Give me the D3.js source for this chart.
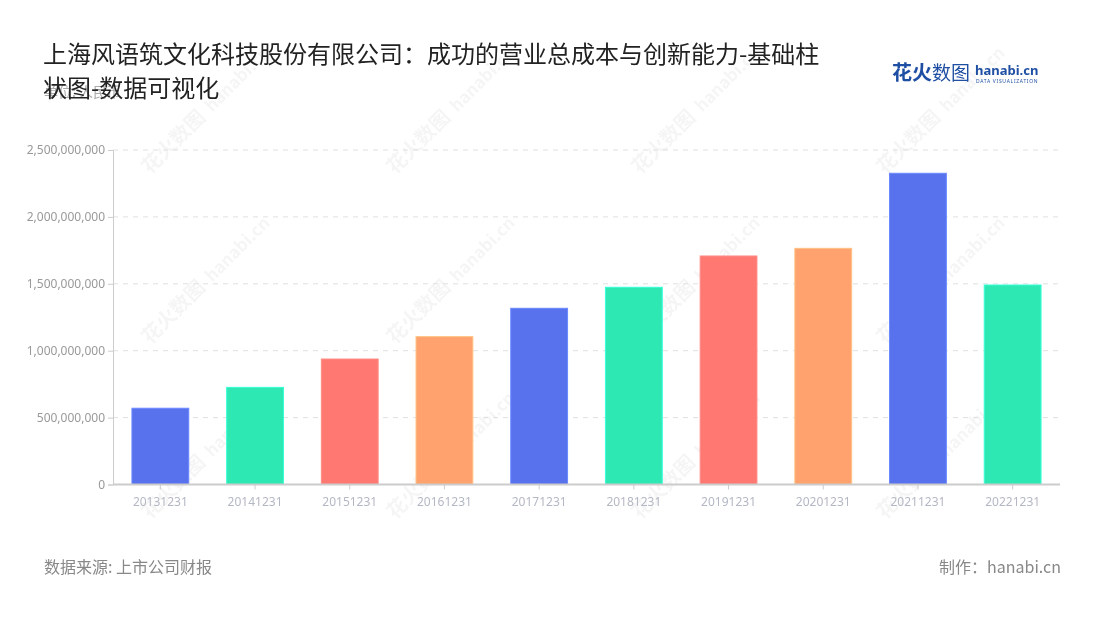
<!DOCTYPE html>
<html><head><meta charset="utf-8">
<script src="https://cdn.jsdelivr.net/npm/d3@7"></script>
<style>
html,body{margin:0;padding:0;background:#fff;}
svg{display:block;font-family:"Noto Sans CJK SC","Noto Sans",sans-serif;}
</style></head>
<body><svg id="c" width="1100" height="620"></svg>
<script>
const categories = ["20131231","20141231","20151231","20161231","20171231","20181231","20191231","20201231","20211231","20221231"];
const values = [570000000,726000000,938000000,1105000000,1317000000,1474000000,1708000000,1765000000,2326000000,1491000000];
const yTicks = [0,500000000,1000000000,1500000000,2000000000,2500000000];
const palette = ["#5872EE","#2EE8B4","#FF7872","#FFA26E"];
const titleLines = ["上海风语筑文化科技股份有限公司：成功的营业总成本与创新能力-基础柱","状图-数据可视化"];

const svg = d3.select("#c");
const m = {l:113, r:1060, t:150, b:484.5};

// watermarks
const wm = svg.append("g").attr("fill","#000").attr("opacity",0.04).attr("font-weight","bold");
[[150,175],[395,175],[640,175],[885,175],[150,345],[395,345],[640,345],[885,345],[150,520],[395,520],[640,520],[885,520]].forEach(([x,y])=>{
  const g = wm.append("g").attr("transform",`translate(${x},${y}) rotate(-45)`);
  g.append("text").attr("font-size",20).text("花火数图");
  g.append("text").attr("x",88).attr("font-size",17).text("hanabi.cn");
});

const x = d3.scaleBand().domain(categories).range([m.l,m.r]).paddingInner(0.4).paddingOuter(0.2);
const y = d3.scaleLinear().domain([0,2500000000]).range([m.b,m.t]);

// grid
svg.append("g").selectAll("line").data(yTicks.slice(1)).join("line")
  .attr("x1",m.l).attr("x2",m.r).attr("y1",d=>y(d)).attr("y2",d=>y(d))
  .attr("stroke","#e0e0e0").attr("stroke-dasharray","5,5");

// y axis
const ya = svg.append("g").attr("transform",`translate(${m.l},0)`)
  .call(d3.axisLeft(y).tickValues(yTicks).tickFormat(d3.format(",")).tickSize(5).tickPadding(3));
ya.select(".domain").attr("stroke","#ccc");
ya.selectAll(".tick line").attr("stroke","#ccc");
ya.selectAll("text").attr("fill","#999").attr("font-size",12).attr("font-family","'Noto Sans','DejaVu Sans',sans-serif");

// bars
svg.append("g").selectAll("rect").data(values).join("rect")
  .attr("x",(d,i)=>x(categories[i])).attr("width",x.bandwidth())
  .attr("y",d=>y(d)).attr("height",d=>y(0)-y(d))
  .attr("fill",(d,i)=>palette[i%4])
  .attr("stroke",(d,i)=>d3.color(palette[i%4]).brighter(0.5)).attr("stroke-width",1);

// x axis
const xa = svg.append("g").attr("transform",`translate(0,${m.b})`)
  .call(d3.axisBottom(x).tickSize(5).tickPadding(8).tickSizeOuter(0));
xa.select(".domain").attr("stroke","#ccc").attr("stroke-width",2).attr("d",`M${m.l},0H${m.r}`);
xa.selectAll(".tick line").attr("stroke","#ccc");
xa.selectAll("text").attr("fill","#b4b8c4").attr("font-size",12).attr("font-family","'Noto Sans','DejaVu Sans',sans-serif");

// title
svg.append("text").attr("x",44).attr("y",97).attr("font-size",14).attr("fill","#aaa").text("单位: 人民币");
const tt = svg.append("g").attr("font-size",24).attr("fill","#222");
titleLines.forEach((t,i)=>tt.append("text").attr("x",43).attr("y",63+i*34).text(t));

// logo
const lg = svg.append("g");
lg.append("text").attr("x",892).attr("y",80).attr("font-size",20).attr("font-weight","bold").attr("fill","#1f4fa3").text("花火");
lg.append("text").attr("x",932).attr("y",80).attr("font-size",19).attr("fill","#1f4fa3").text("数图");
lg.append("text").attr("x",975).attr("y",75).attr("font-size",13).attr("font-weight","bold").attr("fill","#1f4fa3").attr("font-family","'Noto Sans',sans-serif").text("hanabi.cn");
lg.append("text").attr("x",976).attr("y",83).attr("font-size",5).attr("fill","#1f4fa3").attr("letter-spacing",0.7).attr("font-family","'Noto Sans',sans-serif").text("DATA VISUALIZATION");

// footer
svg.append("text").attr("x",44).attr("y",573).attr("font-size",16).attr("fill","#888").text("数据来源: 上市公司财报");
svg.append("text").attr("x",1061).attr("y",573).attr("text-anchor","end").attr("font-size",16).attr("fill","#888").text("制作：hanabi.cn");
</script></body></html>
